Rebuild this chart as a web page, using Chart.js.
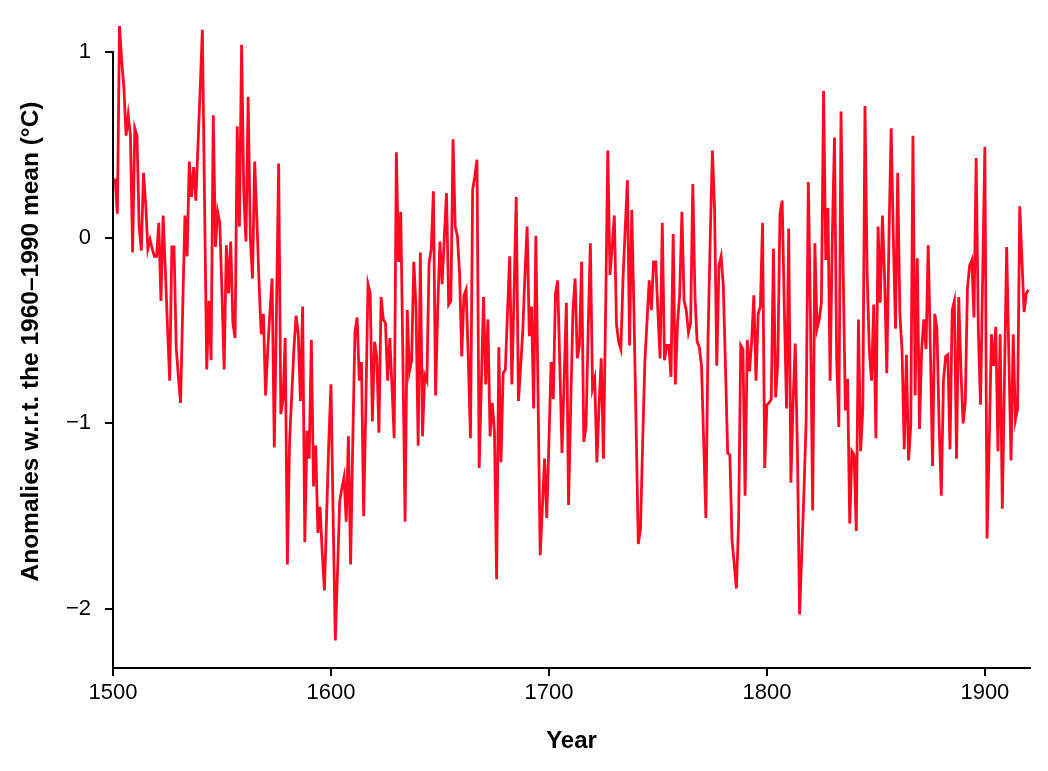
<!DOCTYPE html>
<html>
<head>
<meta charset="utf-8">
<script src="https://cdn.jsdelivr.net/npm/chart.js@4/dist/chart.umd.min.js"></script>
<style>
  html, body { margin: 0; padding: 0; background: #fff; }
  #wrap { width: 1048px; height: 771px; }
</style>
</head>
<body>
<div id="wrap"><canvas id="anomalyChart" width="1048" height="771"></canvas></div>
<script>
// annual anomalies (°C), one array per century
const anomalies1500s = [ // 1501-1599
  0.32, 0.13, 1.14, 0.95, 0.81, 0.55, 0.66, 0.55, -0.08, 0.59,
  0.55, 0.06, -0.07, 0.35, 0.18, -0.06, -0.01, -0.06, -0.10, -0.10,
  0.08, -0.34, 0.12, -0.17, -0.48, -0.77, -0.05, -0.05, -0.59, -0.75,
  -0.89, -0.37, 0.12, -0.10, 0.41, 0.22, 0.38, 0.20, 0.50, 0.80,
  1.12, 0.20, -0.71, -0.34, -0.66, 0.66, -0.05, 0.14, 0.08, -0.30,
  -0.71, -0.04, -0.30, -0.02, -0.46, -0.54, 0.60, 0.06, 1.04, 0.24,
  -0.02, 0.76, 0.00, -0.22, 0.41, 0.10, -0.24, -0.52, -0.41, -0.85,
  -0.60, -0.40, -0.22, -1.13, -0.40, 0.40, -0.95, -0.87, -0.54, -1.76,
  -1.10, -0.85, -0.60, -0.42, -0.52, -0.88, -0.37, -1.64, -1.04, -1.19,
  -0.55, -1.34, -1.12, -1.59, -1.45, -1.70, -1.90, -1.50, -1.10
];
const anomalies1600s = [ // 1600-1699
  -0.79, -1.50, -2.17, -1.80, -1.42, -1.35, -1.29, -1.53, -1.07, -1.76,
  -1.10, -0.51, -0.43, -0.77, -0.67, -1.50, -0.90, -0.25, -0.30, -0.99,
  -0.56, -0.64, -1.05, -0.32, -0.44, -0.46, -0.77, -0.54, -0.80, -1.08,
  0.46, -0.13, 0.14, -0.65, -1.53, -0.39, -0.72, -0.66, -0.13, -0.37,
  -1.12, -0.08, -1.07, -0.74, -0.77, -0.14, -0.06, 0.25, -0.85, -0.37,
  -0.02, -0.25, 0.00, 0.24, -0.36, -0.34, 0.53, 0.06, 0.01, -0.19,
  -0.64, -0.31, -0.28, -0.65, -1.08, 0.26, 0.33, 0.42, -1.24, -0.78,
  -0.32, -0.79, -0.44, -1.07, -0.89, -1.04, -1.84, -0.59, -1.21, -0.73,
  -0.71, -0.40, -0.10, -0.79, -0.30, 0.22, -0.88, -0.70, -0.50, -0.20,
  0.06, -0.53, -0.37, -0.92, 0.01, -0.85, -1.71, -1.45, -1.19, -1.51
];
const anomalies1700s = [ // 1700-1799
  -1.10, -0.67, -0.87, -0.30, -0.23, -0.69, -1.16, -0.75, -0.35, -1.44,
  -0.90, -0.40, -0.22, -0.65, -0.58, -0.13, -1.10, -1.02, -0.50, -0.03,
  -0.81, -0.76, -1.21, -0.90, -0.65, -1.19, -0.40, 0.47, -0.20, -0.05,
  0.12, -0.47, -0.56, -0.60, -0.22, 0.05, 0.31, -0.58, 0.15, -0.40,
  -1.02, -1.65, -1.57, -1.10, -0.67, -0.45, -0.23, -0.39, -0.13, -0.13,
  -0.40, -0.65, 0.08, -0.66, -0.58, -0.58, -0.75, 0.02, -0.79, -0.46,
  -0.30, 0.14, -0.34, -0.39, -0.51, -0.46, 0.29, -0.32, -0.56, -0.59,
  -0.69, -1.10, -1.51, -0.54, 0.00, 0.47, 0.15, -0.69, -0.15, -0.10,
  -0.26, -0.70, -1.16, -1.17, -1.63, -1.76, -1.89, -1.54, -0.58, -0.60,
  -1.39, -0.55, -0.72, -0.56, -0.31, -0.77, -0.41, -0.37, 0.08, -1.24
];
const anomalies1800s = [ // 1800-1899
  -0.90, -0.89, -0.87, -0.06, -0.86, -0.67, 0.13, 0.20, -0.39, -0.92,
  0.05, -1.32, -0.89, -0.57, -1.15, -2.03, -1.70, -1.37, -0.98, 0.30,
  -0.44, -1.47, -0.03, -0.49, -0.44, -0.35, 0.79, -0.12, 0.16, -0.77,
  0.00, 0.54, -0.65, -1.02, 0.68, -0.19, -0.93, -0.76, -1.54, -1.15,
  -1.17, -1.58, -0.44, -1.15, -0.92, 0.71, -0.20, -0.61, -0.77, -0.36,
  -1.08, 0.06, -0.35, 0.12, -0.22, -0.73, 0.00, 0.59, 0.00, -0.49,
  0.35, -0.41, -0.61, -1.14, -0.63, -1.20, -1.01, 0.55, -0.85, -0.11,
  -1.03, -0.60, -0.44, -0.60, -0.04, -0.60, -1.23, -0.41, -0.49, -1.00,
  -1.39, -0.77, -0.64, -0.63, -1.14, -0.39, -0.34, -1.19, -0.32, -0.71,
  -1.00, -0.89, -0.27, -0.15, -0.12, -0.43, 0.43, -0.50, -0.90, -0.20
];
const anomalies1900s = [ // 1900-1920
  0.49, -1.62, -1.10, -0.52, -0.69, -0.48, -1.15, -0.52, -1.46, -0.75,
  -0.05, -0.64, -1.20, -0.52, -0.98, -0.92, 0.17, -0.12, -0.40, -0.30,
  -0.28
];

const xTickYears = [1500, 1600, 1700, 1800, 1900];
const yTickValues = [-2, -1, 0, 1];

function toPoints(startYear, values) {
  return values.map((v, i) => ({ x: startYear + i, y: v }));
}

const points = [].concat(
  toPoints(1501, anomalies1500s),
  toPoints(1600, anomalies1600s),
  toPoints(1700, anomalies1700s),
  toPoints(1800, anomalies1800s),
  toPoints(1900, anomalies1900s)
);

// the y axis line only runs from the top tick down
const yAxisLine = {
  id: 'yAxisLine',
  afterDraw(chart) {
    const { ctx, chartArea, scales } = chart;
    const top = scales.y.getPixelForValue(yTickValues[yTickValues.length - 1]);
    ctx.save();
    ctx.strokeStyle = '#000';
    ctx.lineWidth = 2;
    ctx.beginPath();
    ctx.moveTo(chartArea.left, top - 1);
    ctx.lineTo(chartArea.left, chartArea.bottom + 1);
    ctx.stroke();
    ctx.restore();
  }
};

Chart.defaults.font.family = '"Liberation Sans", Arial, sans-serif';
Chart.defaults.color = '#000';

const ctx = document.getElementById('anomalyChart').getContext('2d');
const anomalyChart = new Chart(ctx, {
  type: 'line',
  data: {
    datasets: [{
      data: points,
      borderColor: '#ff0a22',
      borderWidth: 2.8,
      pointRadius: 0,
      tension: 0,
      fill: false
    }]
  },
  options: {
    responsive: false,
    animation: false,
    devicePixelRatio: 1,
    events: [],
    layout: { padding: { top: 15, right: 18, left: 0, bottom: 0 } },
    plugins: {
      legend: { display: false },
      tooltip: { enabled: false }
    },
    scales: {
      x: {
        type: 'linear',
        min: 1500,
        max: 1920.7,
        afterFit: function (scale) {
          scale.height = 103;
          scale.paddingLeft = 0;
          scale.paddingRight = 0;
        },
        afterBuildTicks: function (scale) {
          scale.ticks = xTickYears.map(v => ({ value: v }));
        },
        border: { display: true, color: '#000', width: 2 },
        grid: { drawOnChartArea: false, drawTicks: true, tickLength: 8, color: '#000', lineWidth: 2 },
        ticks: {
          font: { size: 22 },
          padding: 4,
          maxRotation: 0,
          callback: function (value) { return String(value); }
        },
        title: {
          display: true,
          text: 'Year',
          font: { size: 24, weight: 'bold' },
          padding: { top: 0, bottom: 15 }
        }
      },
      y: {
        min: -2.318,
        max: 1.2,
        afterFit: function (scale) {
          scale.width = 113;
          scale.paddingTop = 0;
          scale.paddingBottom = 0;
        },
        afterBuildTicks: function (scale) {
          scale.ticks = yTickValues.map(v => ({ value: v }));
        },
        border: { display: false },
        grid: { drawOnChartArea: false, drawTicks: true, tickLength: 8, color: '#000', lineWidth: 2 },
        ticks: {
          font: { size: 22 },
          padding: 14,
          callback: function (value) {
            return value < 0 ? '\u2212' + Math.abs(value) : String(value);
          }
        },
        title: {
          display: true,
          text: 'Anomalies w.r.t. the 1960\u20131990 mean (\u00b0C)',
          font: { size: 24.5, weight: 'bold' },
          padding: { top: 17, bottom: 0 }
        }
      }
    }
  },
  plugins: [yAxisLine]
});
</script>
</body>
</html>
